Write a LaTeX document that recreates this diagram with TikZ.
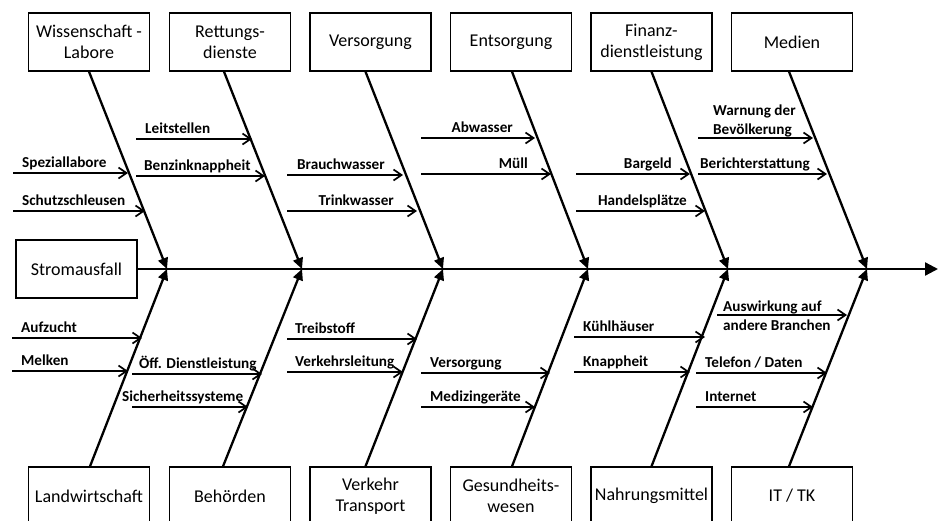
\documentclass[tikz,border=0pt]{standalone}
\usepackage{fontspec}
\setmainfont{Carlito}
\usetikzlibrary{arrows.meta}
\begin{document}
\begin{tikzpicture}[x=1pt,y=-1pt,
 box/.style={draw, line width=1.3pt, minimum width=121pt, minimum height=58pt, align=center, font=\fontsize{18}{21}\selectfont, inner sep=0pt},
 bone/.style={line width=2.3pt, -{Triangle[length=11pt,width=10pt]}},
 sub/.style={line width=1.7pt, -{Straight Barb[length=8pt,width=11pt]}},
 lab/.style={font=\bfseries\fontsize{15.2}{19}\selectfont, inner sep=0pt, align=left}]
\useasboundingbox (0,0) rectangle (940,520);
% top boxes
\node[box] (t1) at (89,42) {Wissenschaft -\\Labore};
\node[box] (t2) at (230,42) {Rettungs-\\dienste};
\node[box] (t3) at (370.5,42) {Versorgung};
\node[box] (t4) at (511,42) {Entsorgung};
\node[box] (t5) at (651.5,42) {Finanz-\\dienstleistung};
\node[box] (t6) at (792,42) {Medien};
% bottom boxes
\node[box] (b1) at (89,496) {Landwirtschaft};
\node[box] (b2) at (230,496) {Behörden};
\node[box] (b3) at (370.5,496) {Verkehr\\Transport};
\node[box] (b4) at (511,496) {Gesundheits-\\wesen};
\node[box] (b5) at (651.5,496) {Nahrungsmittel};
\node[box] (b6) at (792,496) {IT / TK};
% spine
\node[box] (s) at (76.5,269) {Stromausfall};
\coordinate (head) at (938,269);
\draw[line width=2.3pt, -{Triangle[length=13pt,width=13pt]}] (s.east) -- (head);
\coordinate (j1) at (167,269);
\coordinate (j2) at (302,269);
\coordinate (j3) at (443,269);
\coordinate (j4) at (588,269);
\coordinate (j5) at (728,269);
\coordinate (j6) at (867,269);
% bones
\draw[bone] (t1.south) -- (j1);
\draw[bone] ([xshift=-6pt]t2.south) -- (j2);
\draw[bone] ([xshift=-5pt]t3.south) -- (j3);
\draw[bone] ([xshift=1pt]t4.south) -- (j4);
\draw[bone] (t5.south) -- (j5);
\draw[bone] ([xshift=-3pt]t6.south) -- (j6);
\draw[bone] ([xshift=1pt]b1.north) -- (j1);
\draw[bone] ([xshift=-7pt]b2.north) -- (j2);
\draw[bone] ([xshift=-5pt]b3.north) -- (j3);
\draw[bone] ([xshift=1pt]b4.north) -- (j4);
\draw[bone] (b5.north) -- (j5);
\draw[bone] ([xshift=-3pt]b6.north) -- (j6);
% sub causes top
\coordinate (a1) at (13,173); \coordinate (e1) at (128,173);
\draw[sub] (a1) -- (e1);
\node[lab, anchor=base west] (l1) at (22,167) {Speziallabore};
\coordinate (a2) at (13,211); \coordinate (e2) at (145,211);
\draw[sub] (a2) -- (e2);
\node[lab, anchor=base west] (l2) at (22,205) {Schutzschleusen};
\coordinate (a3) at (136,139); \coordinate (e3) at (252,139);
\draw[sub] (a3) -- (e3);
\node[lab, anchor=base west] (l3) at (145,133) {Leitstellen};
\coordinate (a4) at (136,176); \coordinate (e4) at (265,176);
\draw[sub] (a4) -- (e4);
\node[lab, anchor=base west] (l4) at (144,170) {Benzinknappheit};
\coordinate (a5) at (287,175); \coordinate (e5) at (403,175);
\draw[sub] (a5) -- (e5);
\node[lab, anchor=base west] (l5) at (297,169) {Brauchwasser};
\coordinate (a6) at (287,211); \coordinate (e6) at (417,211);
\draw[sub] (a6) -- (e6);
\node[lab, anchor=base east] (l6) at (394,205) {Trinkwasser};
\coordinate (a7) at (421,138); \coordinate (e7) at (535,138);
\draw[sub] (a7) -- (e7);
\node[lab, anchor=base east] (l7) at (513,132) {Abwasser};
\coordinate (a8) at (421,174); \coordinate (e8) at (551,174);
\draw[sub] (a8) -- (e8);
\node[lab, anchor=base east] (l8) at (528,168) {Müll};
\coordinate (a9) at (576,174); \coordinate (e9) at (690,174);
\draw[sub] (a9) -- (e9);
\node[lab, anchor=base east] (l9) at (672,168) {Bargeld};
\coordinate (a10) at (576,211); \coordinate (e10) at (705,211);
\draw[sub] (a10) -- (e10);
\node[lab, anchor=base east] (l10) at (687,205) {Handelsplätze};
\coordinate (a11) at (698,138); \coordinate (e11) at (813,138);
\draw[sub] (a11) -- (e11);
\node[lab, anchor=base west] (l11) at (713,134) {Warnung der\\Bevölkerung};
\coordinate (a12) at (698,174); \coordinate (e12) at (827,174);
\draw[sub] (a12) -- (e12);
\node[lab, anchor=base west] (l12) at (700,168) {Berichterstattung};
% sub causes bottom
\coordinate (a13) at (12,338); \coordinate (e13) at (142,338);
\draw[sub] (a13) -- (e13);
\node[lab, anchor=base west] (l13) at (21,332) {Aufzucht};
\coordinate (a14) at (12,371); \coordinate (e14) at (128,371);
\draw[sub] (a14) -- (e14);
\node[lab, anchor=base west] (l14) at (21,365) {Melken};
\coordinate (a15) at (132,374); \coordinate (e15) at (262,374);
\draw[sub] (a15) -- (e15);
\node[lab, anchor=base west] (l15) at (139,368) {Öff. Dienstleistung};
\coordinate (a16) at (132,407); \coordinate (e16) at (248,407);
\draw[sub] (a16) -- (e16);
\node[lab, anchor=base west] (l16) at (122,401) {Sicherheitssysteme};
\coordinate (a17) at (287,339); \coordinate (e17) at (417,339);
\draw[sub] (a17) -- (e17);
\node[lab, anchor=base west] (l17) at (295,333) {Treibstoff};
\coordinate (a18) at (287,372); \coordinate (e18) at (403,372);
\draw[sub] (a18) -- (e18);
\node[lab, anchor=base west] (l18) at (295,366) {Verkehrsleitung};
\coordinate (a19) at (421,373); \coordinate (e19) at (550,373);
\draw[sub] (a19) -- (e19);
\node[lab, anchor=base west] (l19) at (430,367) {Versorgung};
\coordinate (a20) at (421,407); \coordinate (e20) at (535,407);
\draw[sub] (a20) -- (e20);
\node[lab, anchor=base west] (l20) at (430,401) {Medizingeräte};
\coordinate (a21) at (574,337); \coordinate (e21) at (705,337);
\draw[sub] (a21) -- (e21);
\node[lab, anchor=base west] (l21) at (583,331) {Kühlhäuser};
\coordinate (a22) at (574,372); \coordinate (e22) at (690,372);
\draw[sub] (a22) -- (e22);
\node[lab, anchor=base west] (l22) at (583,366) {Knappheit};
\coordinate (a23) at (717,315); \coordinate (e23) at (847,315);
\draw[sub] (a23) -- (e23);
\node[lab, anchor=base west] (l23) at (723,330) {Auswirkung auf\\andere Branchen};
\coordinate (a24) at (696,373); \coordinate (e24) at (827,373);
\draw[sub] (a24) -- (e24);
\node[lab, anchor=base west] (l24) at (705,367) {Telefon / Daten};
\coordinate (a25) at (696,407); \coordinate (e25) at (813,407);
\draw[sub] (a25) -- (e25);
\node[lab, anchor=base west] (l25) at (705,401) {Internet};
\end{tikzpicture}
\end{document}
